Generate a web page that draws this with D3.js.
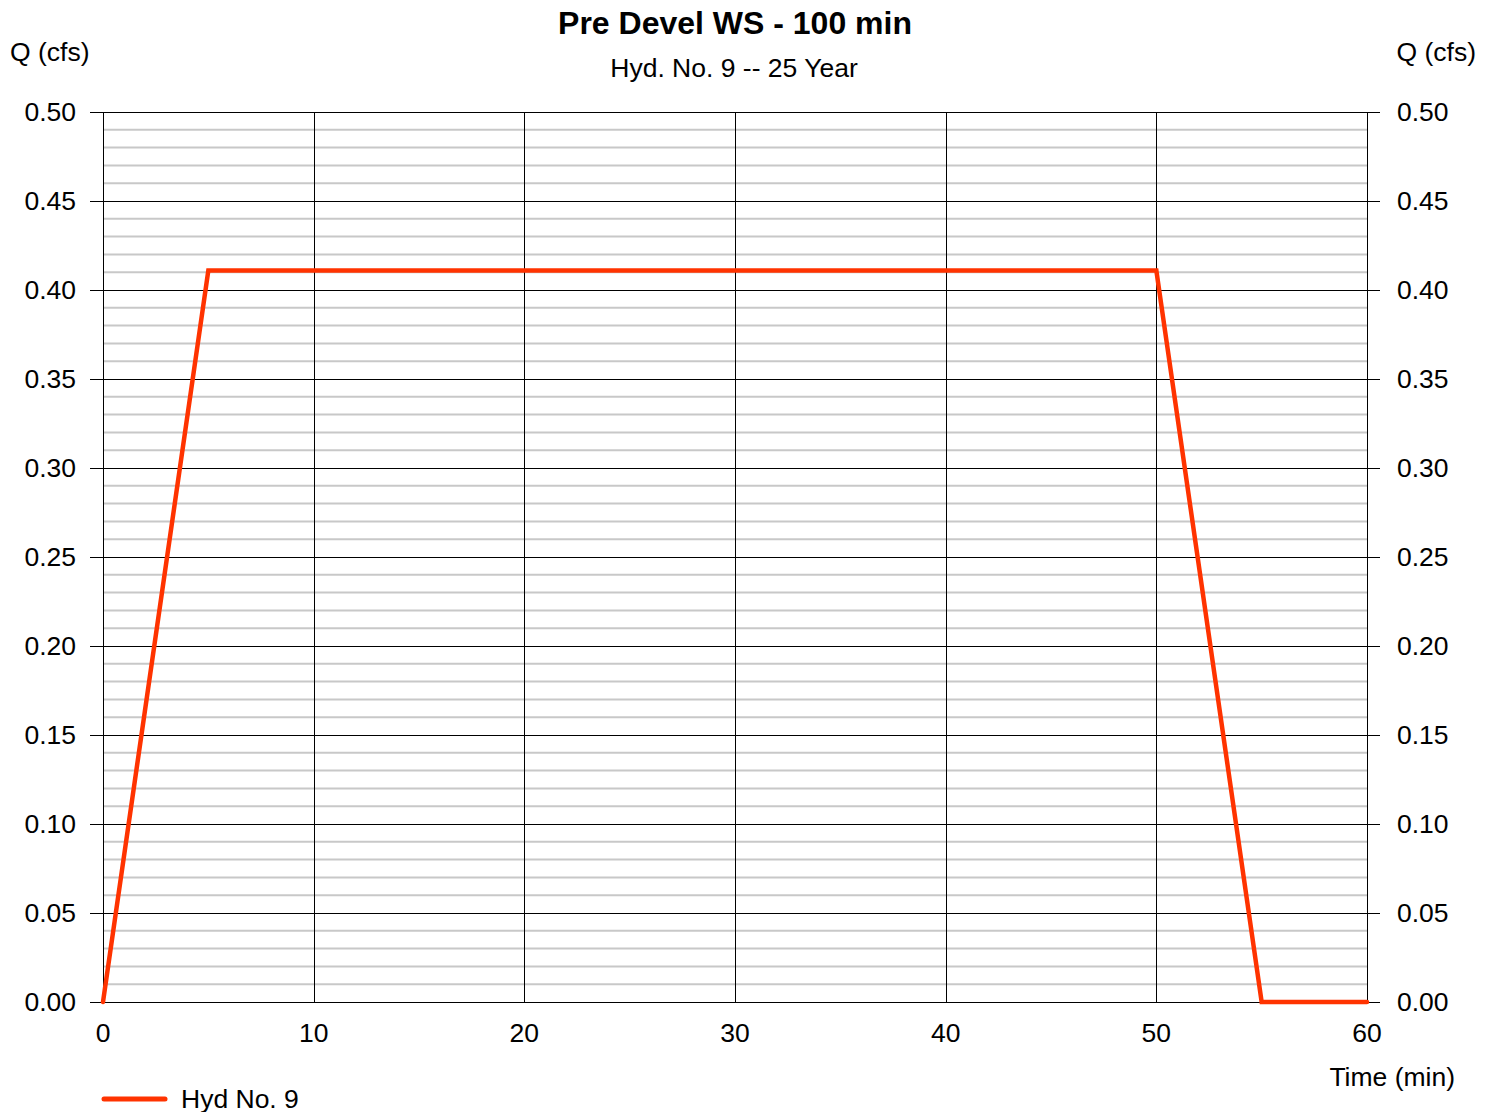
<!DOCTYPE html>
<html>
<head>
<meta charset="utf-8">
<script src="https://cdn.jsdelivr.net/npm/d3@7"></script>
<style>
  html, body { margin: 0; padding: 0; background: #fff; }
  svg { display: block; font-family: "Liberation Sans", Arial, sans-serif; }
</style>
</head>
<body>
<svg id="chart" width="1494" height="1112"></svg>
<script>
// Hydrograph ordinates: time (min) and discharge Q (cfs)
const timeMin = [0, 5, 50, 55, 60];
const flowCfs = [0, 0.411, 0.411, 0, 0];

const xTicks = [0, 10, 20, 30, 40, 50, 60];
const yTicks = [0, 0.05, 0.10, 0.15, 0.20, 0.25, 0.30, 0.35, 0.40, 0.45, 0.50];
const yMinor = d3.range(0, 51).map(i => i / 100);

const titleText = "Pre Devel WS - 100 min";
const subtitleText = "Hyd. No. 9 -- 25 Year";
const seriesName = "Hyd No. 9";

(function draw() {
  const svg = d3.select("#chart");
  const plotL = 103, plotR = 1367, plotT = 112, plotB = 1002;
  const fs = 26.5;

  const x = d3.scaleLinear().domain([0, 60]).range([plotL, plotR]);
  const y = d3.scaleLinear().domain([0, 0.5]).range([plotB, plotT]);

  // minor horizontal grid
  svg.append("g").selectAll("line")
    .data(yMinor.filter(v => Math.round(v * 100) % 5 !== 0))
    .join("line")
    .attr("x1", plotL).attr("x2", plotR)
    .attr("y1", d => y(d)).attr("y2", d => y(d))
    .attr("stroke", "#c8c8c8").attr("stroke-width", 2);

  // major horizontal grid with ticks on both sides
  svg.append("g").selectAll("line")
    .data(yTicks)
    .join("line")
    .attr("x1", plotL - 13).attr("x2", plotR + 13)
    .attr("y1", d => Math.round(y(d)) + 0.5).attr("y2", d => Math.round(y(d)) + 0.5)
    .attr("stroke", "#000").attr("stroke-width", 1);

  // vertical grid
  svg.append("g").selectAll("line")
    .data(xTicks)
    .join("line")
    .attr("x1", d => Math.round(x(d)) + 0.5).attr("x2", d => Math.round(x(d)) + 0.5)
    .attr("y1", plotT).attr("y2", plotB)
    .attr("stroke", "#000").attr("stroke-width", 1);

  // y labels, left and right
  const fmt = d3.format(".2f");
  svg.append("g").selectAll("text")
    .data(yTicks).join("text")
    .attr("x", 76).attr("y", d => y(d) + 9)
    .attr("text-anchor", "end").attr("font-size", fs).attr("fill", "#000")
    .text(fmt);
  svg.append("g").selectAll("text")
    .data(yTicks).join("text")
    .attr("x", 1397).attr("y", d => y(d) + 9)
    .attr("text-anchor", "start").attr("font-size", fs).attr("fill", "#000")
    .text(fmt);

  // x labels
  svg.append("g").selectAll("text")
    .data(xTicks).join("text")
    .attr("x", d => x(d)).attr("y", 1042)
    .attr("text-anchor", "middle").attr("font-size", fs).attr("fill", "#000")
    .text(d => d);

  // axis titles
  svg.append("text").attr("x", 10).attr("y", 61).attr("font-size", fs).text("Q (cfs)");
  svg.append("text").attr("x", 1476).attr("y", 61).attr("font-size", fs).attr("text-anchor", "end").text("Q (cfs)");
  svg.append("text").attr("x", 1455).attr("y", 1086).attr("font-size", fs).attr("text-anchor", "end").text("Time (min)");

  // titles
  svg.append("text").attr("x", 735).attr("y", 34).attr("font-size", 32).attr("font-weight", "bold")
    .attr("text-anchor", "middle").text(titleText);
  svg.append("text").attr("x", 734).attr("y", 77).attr("font-size", fs)
    .attr("text-anchor", "middle").text(subtitleText);

  // hydrograph line
  const line = d3.line().x((d, i) => x(timeMin[i])).y(d => y(d));
  svg.append("path")
    .attr("d", line(flowCfs))
    .attr("fill", "none").attr("stroke", "#ff3300").attr("stroke-width", 4.5)
    .attr("stroke-linejoin", "miter").attr("stroke-linecap", "round");

  // legend
  svg.append("line").attr("x1", 104).attr("x2", 165).attr("y1", 1099).attr("y2", 1099)
    .attr("stroke", "#ff3300").attr("stroke-width", 5).attr("stroke-linecap", "round");
  svg.append("text").attr("x", 181).attr("y", 1108).attr("font-size", fs).text(seriesName);
})();
</script>
</body>
</html>
